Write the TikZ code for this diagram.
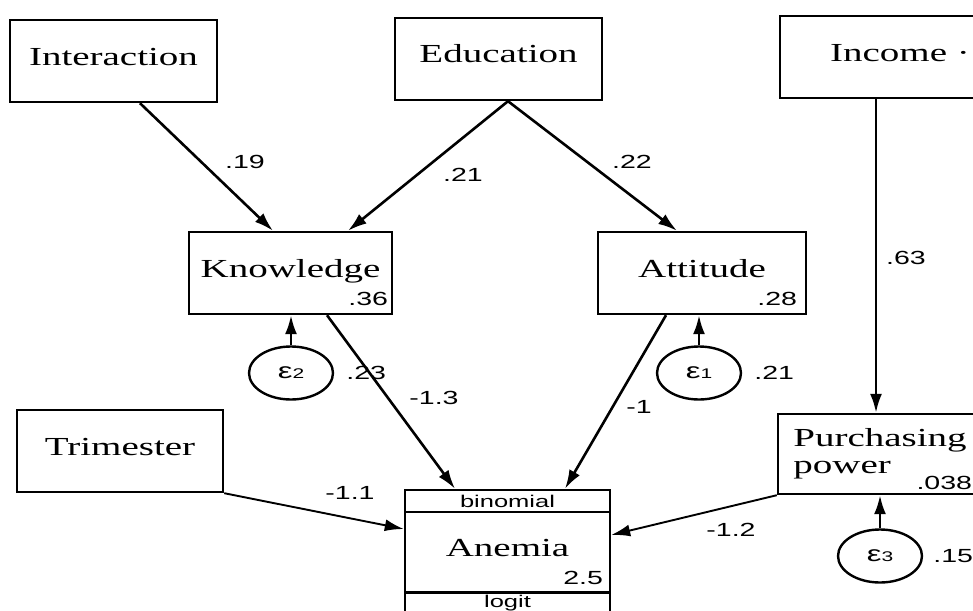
\documentclass[tikz,border=0pt]{standalone}
\usepackage{fontspec}
\newfontfamily\boxfont[FakeStretch=1.5]{Liberation Serif}
\newfontfamily\numfont[FakeStretch=1.5]{Liberation Sans}
\usetikzlibrary{arrows.meta,shapes.geometric}

\begin{document}
\begin{tikzpicture}[x=1pt,y=-1pt,box/.style={draw=black,line width=2.4pt,inner sep=0pt,font=\boxfont\fontsize{26}{27}\selectfont},var/.style={box,minimum width=207pt,minimum height=82pt,text height=18pt,text depth=10pt},band/.style={draw=black,line width=2.4pt,minimum width=205pt,minimum height=22pt,inner sep=0pt,font=\numfont\fontsize{17}{17}\selectfont},err/.style={ellipse,draw=black,line width=2.4pt,minimum width=84pt,minimum height=53pt,inner sep=0pt,font=\numfont\fontsize{22}{22}\selectfont},lbl/.style={inner sep=0pt,font=\numfont\fontsize{19}{19}\selectfont},effect/.style={-{Latex[length=19pt,width=12pt]},line width=2.6pt},effectthin/.style={effect,line width=1.9pt}]
\useasboundingbox (0,0) rectangle (973,610);
\clip (0,0) rectangle (973,610);
\node[var] (inter) at (113.5,61) {Interaction};
\node[var] (edu) at (498.5,59) {Education};
\node[var,minimum width=240pt] (inc) at (900,57) {Income ·};
\node[var,minimum width=203pt] (know) at (290.5,273) {Knowledge};
\node[var,minimum width=208pt] (att) at (702,273) {Attitude};
\node[var,minimum width=206pt] (tri) at (120,451) {Trimester};
\node[box,minimum width=204pt,minimum height=80pt,align=left] (pp) at (880,454) {Purchasing\\power};
\node[band] (anemb) at (507.5,501) {binomial};
\node[var,minimum width=205pt,minimum height=81pt] (anem) at (507.5,552.5) {Anemia};
\node[band] (aneml) at (507.5,603) {logit};
\node[err] (e2) at (291,373) {ε{\fontsize{14}{14}\selectfont 2}};
\node[err] (e1) at (699,373) {ε{\fontsize{14}{14}\selectfont 1}};
\node[err] (e3) at (880,556) {ε{\fontsize{14}{14}\selectfont 3}};
\node[lbl,anchor=base east] (knowv) at ([xshift=-5pt,yshift=9.5pt]know.south east) {.36};
\node[lbl,anchor=base east] (attv) at ([xshift=-10pt,yshift=9.5pt]att.south east) {.28};
\node[lbl,anchor=base east] (anemv) at ([xshift=-8pt,yshift=9.5pt]anem.south east) {2.5};
\node[lbl,anchor=base east] (ppv) at ([xshift=-11pt,yshift=5.5pt]pp.south east) {.038};
\node[lbl,anchor=west] (e2v) at ([xshift=12pt]e2.east) {.23};
\node[lbl,anchor=west] (e1v) at ([xshift=12pt]e1.east) {.21};
\node[lbl,anchor=west] (e3v) at ([xshift=10pt]e3.east) {.15};
\draw[effect] ([xshift=26.5pt]inter.south) -- ([xshift=-17.5pt]know.north);
\draw[effect] ([xshift=9.5pt]edu.south) -- ([xshift=57.5pt]know.north);
\draw[effect] ([xshift=9.5pt]edu.south) -- ([xshift=-25pt]att.north);
\draw[effect] ([xshift=-24pt]inc.south) -- ([xshift=-4pt]pp.north);
\draw[effect] ([xshift=36.5pt]know.south) -- ([xshift=-52.5pt]anemb.north);
\draw[effect] ([xshift=-36pt]att.south) -- ([xshift=57.5pt]anemb.north);
\draw[effectthin] (tri.south east) -- ([yshift=23.5pt]anem.west);
\draw[effectthin] (pp.south west) -- ([yshift=17.5pt]anem.east);
\draw[effect] (e2.north) -- (e2.north |- know.south);
\draw[effect] (e1.north) -- (e1.north |- att.south);
\draw[effect] (e3.north) -- (e3.north |- pp.south);
\node[lbl] (w19) at (245,162) {.19};
\node[lbl] (w21) at (463,175) {.21};
\node[lbl] (w22) at (632,162) {.22};
\node[lbl] (w63) at (906,258) {.63};
\node[lbl] (w13) at (434,398) {-1.3};
\node[lbl] (w1) at (639,407) {-1};
\node[lbl] (w11) at (350,493) {-1.1};
\node[lbl] (w12) at (731,530) {-1.2};
\end{tikzpicture}
\end{document}
